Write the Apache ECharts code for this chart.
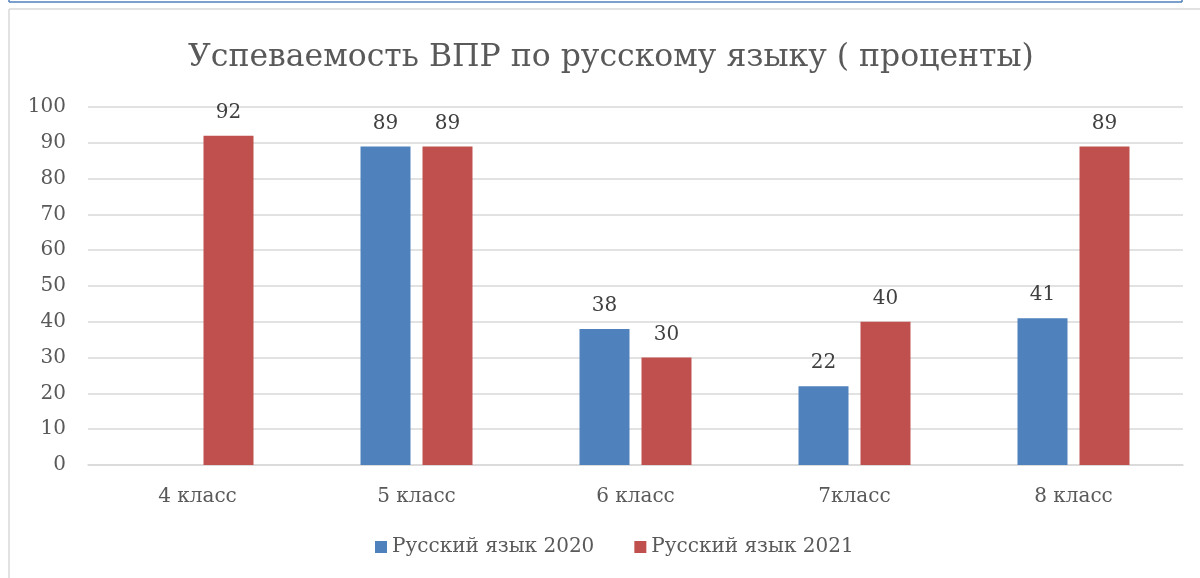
<!DOCTYPE html>
<html>
<head>
<meta charset="utf-8">
<script src="https://cdn.jsdelivr.net/npm/echarts@6/dist/echarts.min.js"></script>
<style>
  html, body { margin: 0; padding: 0; background: #fff; }
  #chart { width: 1200px; height: 578px; }
</style>
</head>
<body>
<div id="chart"></div>
<script>
const categories = ['4 класс', '5 класс', '6 класс', '7класс', '8 класс']
const series2020 = [null, 89, 38, 22, 41]
const series2021 = [92, 89, 30, 40, 89]
const yTicks = { min: 0, max: 100, interval: 10 }

const font = 'DejaVu Serif'
const textColor = '#595959'

const chart = echarts.init(document.getElementById('chart'))

chart.setOption({
  animation: false,
  textStyle: { fontFamily: font },
  title: {
    text: 'Успеваемость ВПР по русскому языку ( проценты)',
    left: 183,
    top: 37,
    textStyle: { fontFamily: font, fontSize: 31.5, fontWeight: 'normal', color: textColor }
  },
  legend: {
    bottom: 16,
    left: 370,
    itemWidth: 12,
    itemHeight: 12,
    itemGap: 40,
    icon: 'rect',
    textStyle: { fontFamily: font, fontSize: 20, color: textColor },
    data: ['Русский язык 2020', 'Русский язык 2021']
  },
  grid: {
    left: 88,
    right: 17,
    top: 107,
    bottom: 113,
    containLabel: false
  },
  xAxis: {
    type: 'category',
    data: categories,
    axisLine: { lineStyle: { color: '#d9d9d9', width: 1.5 } },
    axisTick: { show: false },
    axisLabel: { fontFamily: font, fontSize: 20, color: textColor, margin: 22 }
  },
  yAxis: {
    type: 'value',
    min: yTicks.min,
    max: yTicks.max,
    interval: yTicks.interval,
    axisLine: { show: false },
    axisTick: { show: false },
    splitLine: { lineStyle: { color: '#d9d9d9', width: 1.5 } },
    axisLabel: { fontFamily: font, fontSize: 20, color: textColor, margin: 22 }
  },
  series: [
    {
      name: 'Русский язык 2020',
      type: 'bar',
      data: series2020,
      barWidth: 50,
      barGap: '24%',
      itemStyle: { color: '#4f81bd' },
      label: {
        show: true,
        position: 'top',
        distance: 13,
        fontFamily: font,
        fontSize: 20,
        color: '#404040'
      }
    },
    {
      name: 'Русский язык 2021',
      type: 'bar',
      data: series2021,
      barWidth: 50,
      itemStyle: { color: '#c0504d' },
      label: {
        show: true,
        position: 'top',
        distance: 13,
        fontFamily: font,
        fontSize: 20,
        color: '#404040'
      }
    }
  ],
  graphic: [
    // рамка сверху
    { type: 'line', shape: { x1: 9, y1: 2, x2: 1182, y2: 2 }, style: { stroke: '#4f81bd', lineWidth: 1.5 } },
    { type: 'line', shape: { x1: 9, y1: 0, x2: 9, y2: 2 }, style: { stroke: '#4f81bd', lineWidth: 1.5 } },
    { type: 'line', shape: { x1: 1182, y1: 0, x2: 1182, y2: 2 }, style: { stroke: '#4f81bd', lineWidth: 1.5 } },
    { type: 'line', shape: { x1: 9, y1: 9, x2: 1200, y2: 9 }, style: { stroke: '#d9d9d9', lineWidth: 1.5 } },
    { type: 'line', shape: { x1: 9, y1: 9, x2: 9, y2: 578 }, style: { stroke: '#d9d9d9', lineWidth: 1.5 } }
  ]
})
</script>
</body>
</html>
